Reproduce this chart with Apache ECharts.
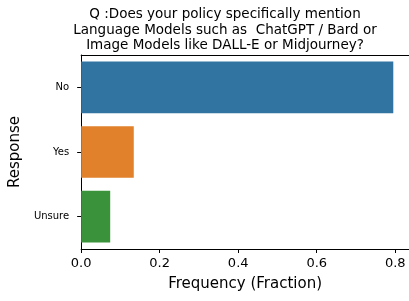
<!DOCTYPE html>
<html lang="en">
<head>
  <meta charset="UTF-8" />
  <title>Policy mention</title>
  <script src="https://cdn.jsdelivr.net/npm/echarts@6/dist/echarts.min.js"></script>
  <style>
    html, body { margin: 0; padding: 0; background: #fff; }
  </style>
</head>
<body>
  <div id="main" style="width: 409px; height: 301px;"></div>
  <script type="text/javascript">
    // data
    let categories = ['No', 'Yes', 'Unsure'];
    let fractions = [0.795, 0.134, 0.074];
    let barColors = ['#3274a1', '#e1812c', '#3a923a'];
    let xTicks = [0, 0.2, 0.4, 0.6, 0.8];

    let font = 'DejaVu Sans';
    let chart = echarts.init(document.getElementById('main'));

    chart.setOption({
      animation: false,
      title: {
        text: 'Q :Does your policy specifically mention\nLanguage Models such as  ChatGPT / Bard or\nImage Models like DALL-E or Midjourney?',
        left: 220,
        top: 2,
        textAlign: 'center',
        textStyle: {
          fontFamily: font,
          fontSize: 13.5,
          fontWeight: 'normal',
          color: '#000',
          lineHeight: 15.5
        }
      },
      grid: {
        left: 79,
        top: 55,
        right: -2,
        bottom: 52,
        containLabel: false
      },
      xAxis: [{
        type: 'value',
        min: 0,
        max: 0.835,
        interval: 0.2,
        name: 'Frequency (Fraction)',
        nameLocation: 'middle',
        nameGap: 28,
        nameTextStyle: { fontFamily: font, fontSize: 15, color: '#000' },
        axisLine: { show: true, lineStyle: { color: '#000', width: 1 } },
        axisTick: { show: true, length: 4, lineStyle: { color: '#000' } },
        splitLine: { show: false },
        axisLabel: {
          fontFamily: font,
          fontSize: 13,
          color: '#000',
          margin: 8,
          showMaxLabel: false,
          formatter: function (v) {
            return xTicks.indexOf(Math.round(v * 10) / 10) >= 0 ? v.toFixed(1) : '';
          }
        }
      }, {
        // top spine
        type: 'value',
        position: 'top',
        min: 0,
        max: 0.835,
        axisLine: { show: true, lineStyle: { color: '#000', width: 1 } },
        axisTick: { show: false },
        axisLabel: { show: false },
        splitLine: { show: false }
      }],
      yAxis: {
        type: 'category',
        data: categories,
        inverse: true,
        name: 'Response',
        nameLocation: 'middle',
        nameGap: 50,
        nameRotate: 90,
        nameTextStyle: { fontFamily: font, fontSize: 15, color: '#000' },
        axisLine: { show: true, lineStyle: { color: '#000', width: 1 } },
        axisTick: { show: true, alignWithLabel: true, length: 4, lineStyle: { color: '#000' } },
        axisLabel: { fontFamily: font, fontSize: 10, color: '#000', margin: 12 }
      },
      series: [{
        type: 'bar',
        barWidth: '80%',
        data: fractions.map(function (v, i) {
          return { value: v, itemStyle: { color: barColors[i] } };
        })
      }]
    });
  </script>
</body>
</html>
